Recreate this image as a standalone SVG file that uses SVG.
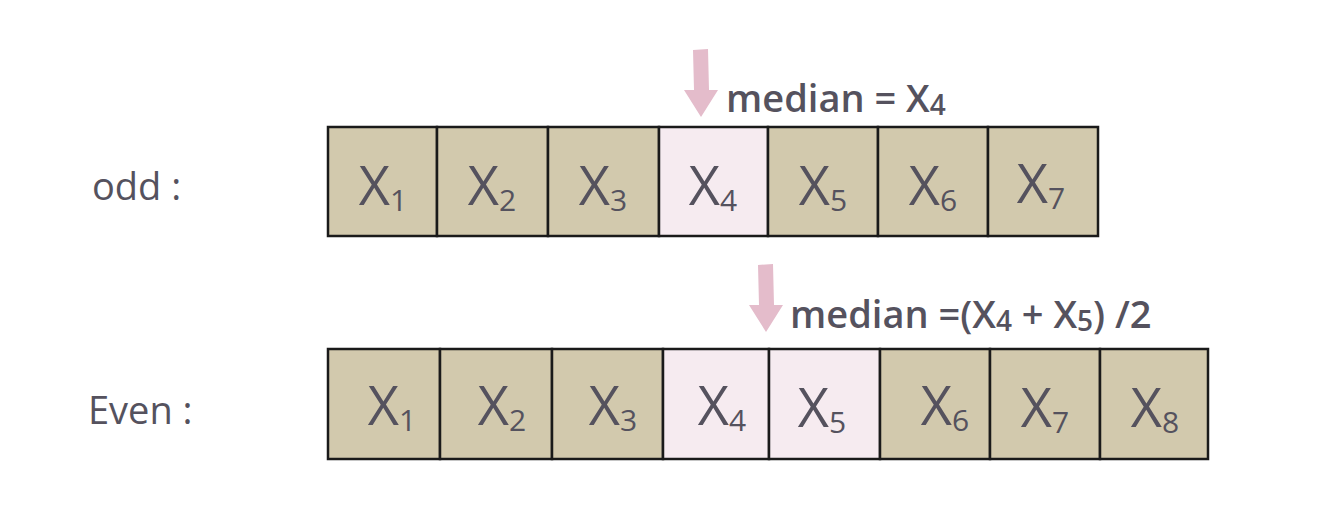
<svg xmlns="http://www.w3.org/2000/svg" width="1328" height="528" viewBox="0 0 1328 528">
<style>
.cell{fill:#d2c9ad;stroke:#1a1a1a;stroke-width:2.5}
.med{fill:#f6ebf0;stroke:#1a1a1a;stroke-width:2.5}
.lbl{font-family:"Open Sans","Liberation Sans",sans-serif;font-size:54px;fill:#55525e;text-anchor:middle}
.sub{font-size:30px}
.hand{font-family:"Open Sans","Liberation Sans",sans-serif;fill:#55525e}
.arrow{fill:#e4bccb}
</style>
<rect width="1328" height="528" fill="#ffffff"/>
<g id="label-odd"><text class="hand" x="92" y="200" font-size="38">odd :</text></g>
<g id="label-even"><text class="hand" x="88" y="424" font-size="38">Even :</text></g>
<g id="odd-row">
<g id="o1"><rect class="cell" x="328" y="127" width="109" height="109"/><text class="lbl" x="383" y="205">X<tspan class="sub" dy="6">1</tspan></text></g>
<g id="o2"><rect class="cell" x="437" y="127" width="111" height="109"/><text class="lbl" x="492" y="205">X<tspan class="sub" dy="6">2</tspan></text></g>
<g id="o3"><rect class="cell" x="548" y="127" width="111" height="109"/><text class="lbl" x="603" y="205">X<tspan class="sub" dy="6">3</tspan></text></g>
<g id="o4"><rect class="med" x="659" y="127" width="109" height="109"/><text class="lbl" x="713" y="205">X<tspan class="sub" dy="6">4</tspan></text></g>
<g id="o5"><rect class="cell" x="768" y="127" width="110" height="109"/><text class="lbl" x="823" y="205">X<tspan class="sub" dy="6">5</tspan></text></g>
<g id="o6"><rect class="cell" x="878" y="127" width="110" height="109"/><text class="lbl" x="933" y="205">X<tspan class="sub" dy="6">6</tspan></text></g>
<g id="o7"><rect class="cell" x="988" y="127" width="110" height="109"/><text class="lbl" x="1041" y="203">X<tspan class="sub" dy="6">7</tspan></text></g>
</g>
<g id="even-row">
<g id="e1"><rect class="cell" x="328" y="349" width="112" height="110"/><text class="lbl" x="392" y="425">X<tspan class="sub" dy="6">1</tspan></text></g>
<g id="e2"><rect class="cell" x="440" y="349" width="112" height="110"/><text class="lbl" x="502" y="425">X<tspan class="sub" dy="6">2</tspan></text></g>
<g id="e3"><rect class="cell" x="552" y="349" width="111" height="110"/><text class="lbl" x="613" y="425">X<tspan class="sub" dy="6">3</tspan></text></g>
<g id="e4"><rect class="med" x="663" y="349" width="106" height="110"/><text class="lbl" x="722" y="425">X<tspan class="sub" dy="6">4</tspan></text></g>
<g id="e5"><rect class="med" x="769" y="349" width="111" height="110"/><text class="lbl" x="822" y="427">X<tspan class="sub" dy="6">5</tspan></text></g>
<g id="e6"><rect class="cell" x="880" y="349" width="110" height="110"/><text class="lbl" x="945" y="425">X<tspan class="sub" dy="6">6</tspan></text></g>
<g id="e7"><rect class="cell" x="990" y="349" width="110" height="110"/><text class="lbl" x="1045" y="427">X<tspan class="sub" dy="6">7</tspan></text></g>
<g id="e8"><rect class="cell" x="1100" y="349" width="108" height="110"/><text class="lbl" x="1155" y="427">X<tspan class="sub" dy="6">8</tspan></text></g>
</g>
<g id="connectors">
<path class="arrow" d="M693 50 L708 49 L709 90 L718 90 L701 117 L684 90 L694 90 Z"/>
<path class="arrow" d="M758 265 L773 264 L774 305 L783 305 L766 332 L749 305 L759 305 Z"/>
</g>
<g id="ann-odd"><text class="hand" x="726" y="112" font-size="38" font-weight="600">median = X<tspan font-size="28" dy="3">4</tspan></text></g>
<g id="ann-even"><text class="hand" x="790" y="328" font-size="38" font-weight="600">median =(X<tspan font-size="28" dy="3">4</tspan><tspan dy="-3"> + X</tspan><tspan font-size="28" dy="3">5</tspan><tspan dy="-3">) /2</tspan></text></g>
</svg>
